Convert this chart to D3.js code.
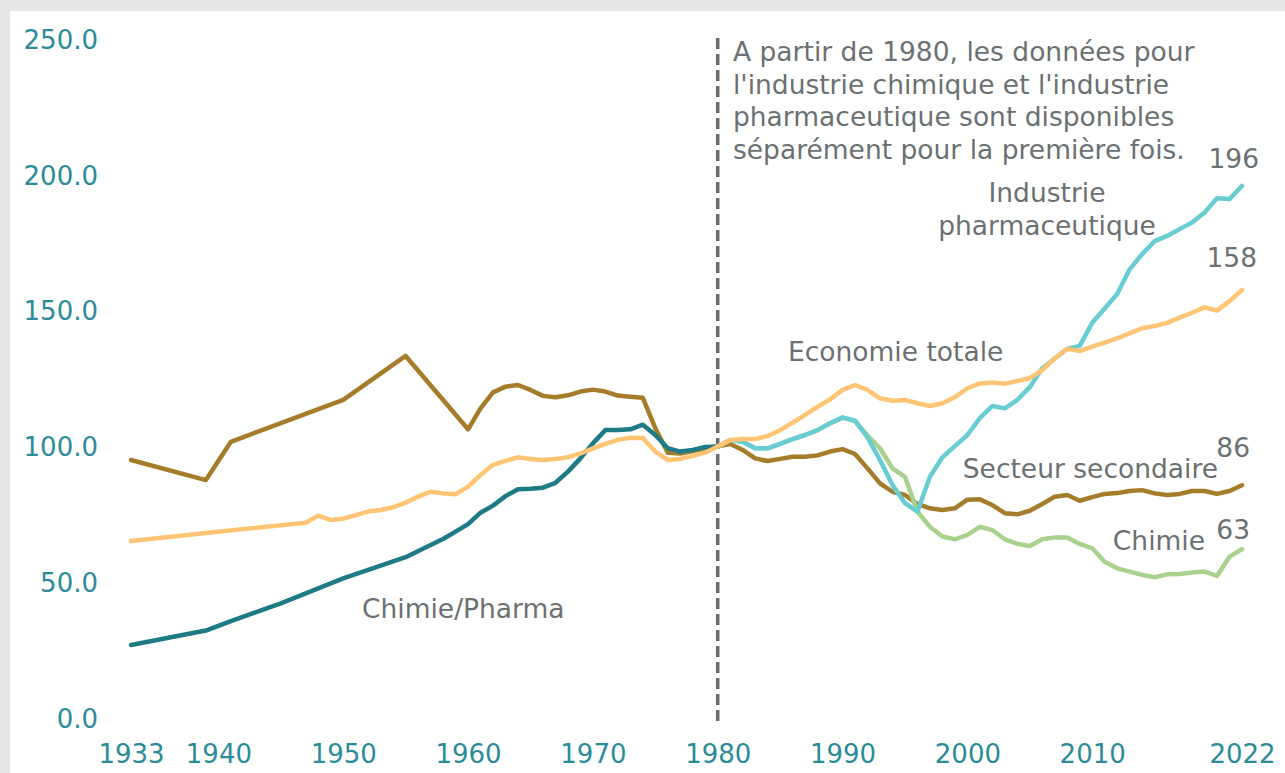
<!DOCTYPE html>
<html>
<head>
<meta charset="utf-8">
<script src="https://cdn.jsdelivr.net/npm/d3@7"></script>
<style>
  html, body { margin: 0; padding: 0; background: #e6e6e6; }
  svg { display: block; }
  text { font-family: "DejaVu Sans", Verdana, sans-serif; }
</style>
</head>
<body>
<div id="plt"></div>
<script>
// Index, 1980 = 100
const yearsChemPharma = [1933, 1939, 1941, 1945, 1948, 1950, 1955, 1957, 1958, 1959, 1960,
  1961, 1962, 1963, 1964, 1965, 1966, 1967, 1968, 1969, 1970,
  1971, 1972, 1973, 1974, 1975, 1976, 1977, 1978, 1979, 1980];
const chemPharma = [26.9, 32.2, 35.7, 42.2, 47.7, 51.4, 59.2, 63.7, 65.9, 68.6, 71.4,
  75.6, 78.2, 81.7, 84.2, 84.4, 84.8, 86.6, 90.7, 95.6, 101.1,
  106.0, 106.0, 106.3, 108.0, 104.2, 99.3, 98.1, 98.7, 99.8, 100];

const yearsSecondary = [1933, 1939, 1941, 1950, 1955, 1960,
  1961, 1962, 1963, 1964, 1965, 1966, 1967, 1968, 1969, 1970,
  1971, 1972, 1973, 1974, 1975, 1976, 1977, 1978, 1979, 1980,
  1981, 1982, 1983, 1984, 1985, 1986, 1987, 1988, 1989, 1990,
  1991, 1992, 1993, 1994, 1995, 1996, 1997, 1998, 1999, 2000,
  2001, 2002, 2003, 2004, 2005, 2006, 2007, 2008, 2009, 2010,
  2011, 2012, 2013, 2014, 2015, 2016, 2017, 2018, 2019, 2020, 2021, 2022];
const secondary = [95.0, 87.6, 101.7, 117.1, 133.3, 106.3,
  114.0, 119.9, 122.0, 122.6, 120.8, 118.6, 118.1, 118.8, 120.2, 120.9,
  120.2, 118.7, 118.3, 117.9, 106.7, 97.7, 97.4, 98.3, 99.3, 100,
  100.9, 98.7, 95.6, 94.6, 95.4, 96.2, 96.2, 96.7, 98.1, 99.0,
  97.2, 91.9, 86.4, 83.3, 82.1, 78.8, 77.2, 76.6, 77.2, 80.4,
  80.5, 78.4, 75.4, 75.0, 76.3, 78.8, 81.5, 82.1, 80.0, 81.3,
  82.5, 82.8, 83.6, 83.9, 82.7, 82.1, 82.5, 83.6, 83.6, 82.5, 83.6, 85.7];

const yearsEconomy = [1933, 1939, 1947, 1948, 1949, 1950,
  1951, 1952, 1953, 1954, 1955, 1956, 1957, 1958, 1959, 1960,
  1961, 1962, 1963, 1964, 1965, 1966, 1967, 1968, 1969, 1970,
  1971, 1972, 1973, 1974, 1975, 1976, 1977, 1978, 1979, 1980,
  1981, 1982, 1983, 1984, 1985, 1986, 1987, 1988, 1989, 1990,
  1991, 1992, 1993, 1994, 1995, 1996, 1997, 1998, 1999, 2000,
  2001, 2002, 2003, 2004, 2005, 2006, 2007, 2008, 2009, 2010,
  2011, 2012, 2013, 2014, 2015, 2016, 2017, 2018, 2019, 2020, 2021, 2022];
const economy = [65.2, 68.1, 71.9, 74.5, 72.9, 73.4,
  74.7, 76.0, 76.6, 77.6, 79.3, 81.5, 83.3, 82.7, 82.4, 85.2,
  89.5, 93.2, 94.7, 96.0, 95.4, 95.0, 95.4, 96.0, 97.4, 99.3,
  100.9, 102.4, 103.2, 103.1, 98.1, 95.0, 95.4, 96.5, 97.7, 100,
  102.4, 102.7, 102.7, 103.8, 106.0, 108.7, 111.6, 114.6, 117.3, 120.8,
  122.6, 120.8, 117.7, 116.8, 117.1, 115.9, 114.9, 115.9, 118.1, 121.4,
  123.2, 123.5, 123.1, 124.1, 125.1, 128.1, 132.4, 135.9, 135.1, 136.7,
  138.2, 139.8, 141.6, 143.5, 144.3, 145.5, 147.4, 149.2, 151.2, 150.0, 153.5, 157.6];

const years1980 = d3.range(1980, 2023);
const pharma = [100, 102.4, 101.7, 99.3, 99.3, 100.9, 102.7, 104.2, 106.0, 108.5, 110.7,
  109.5, 103.3, 95.0, 85.8, 79.1, 76.0, 88.8, 96.0, 100.1, 104.2,
  110.4, 114.9, 114.0, 117.1, 121.8, 128.8, 132.4, 135.9, 137.0, 145.5,
  150.8, 156.1, 165.2, 170.8, 175.6, 177.5, 180.0, 182.4, 186.1, 191.4, 191.1, 195.9];
const chemistry = [100, 102.4, 101.7, 99.3, 99.3, 100.9, 102.7, 104.2, 106.0, 108.5, 110.5,
  109.3, 104.0, 99.3, 91.9, 88.8, 76.0, 70.4, 66.8, 65.8, 67.4,
  70.4, 69.2, 65.8, 64.1, 63.3, 65.8, 66.5, 66.5, 64.1, 62.5,
  57.5, 55.1, 53.9, 52.7, 51.8, 52.9, 53.0, 53.6, 53.9, 52.3, 59.4, 62.2];

const yTicks = [0, 50, 100, 150, 200, 250];
const xTicks = [1933, 1940, 1950, 1960, 1970, 1980, 1990, 2000, 2010, 2022];

const W = 1285, H = 773;

const svg = d3.select("#plt")
    .append("svg")
    .attr("width", W)
    .attr("height", H);

// white card, the grey page shows on top and left
svg.append("rect")
    .attr("x", 10)
    .attr("y", 11)
    .attr("width", W - 10)
    .attr("height", H - 11)
    .attr("fill", "#fff");

const x = d3.scaleLinear().domain([1933, 2022]).range([131, 1242]);
const y = d3.scaleLinear().domain([0, 250]).range([718, 39]);

const tickColor = "#2b8b98";
const textColor = "#6b7072";
const fontSize = "26.5px";

// y axis: labels only
const yAxis = svg.append("g")
    .attr("transform", "translate(98,0)")
    .call(d3.axisLeft(y).tickValues(yTicks).tickSize(0).tickPadding(0).tickFormat(d3.format(".1f")));
yAxis.select(".domain").remove();
yAxis.selectAll("text")
    .attr("fill", tickColor)
    .attr("dy", "0.36em")
    .style("font-size", "26px")
    .style("font-family", "DejaVu Sans, Verdana, sans-serif");

// x axis: labels only
const xAxis = svg.append("g")
    .attr("transform", "translate(0,745)")
    .call(d3.axisBottom(x).tickValues(xTicks).tickSize(0).tickPadding(0).tickFormat(d3.format("d")));
xAxis.select(".domain").remove();
xAxis.selectAll("text")
    .attr("fill", tickColor)
    .style("font-size", "26px")
    .style("font-family", "DejaVu Sans, Verdana, sans-serif");

// dashed break line at 1980
svg.append("line")
    .attr("x1", x(1980)).attr("x2", x(1980))
    .attr("y1", 38).attr("y2", y(0) + 4)
    .attr("stroke", "#686c6e")
    .attr("stroke-width", 3.5)
    .attr("stroke-dasharray", "11,5");

const line = d3.line()
    .x(d => x(d[0]))
    .y(d => y(d[1]));

const series = [
  { years: yearsSecondary, values: secondary, color: "#a47c2a" },
  { years: yearsChemPharma, values: chemPharma, color: "#1e7a85" },
  { years: years1980, values: chemistry, color: "#a9d18e" },
  { years: years1980, values: pharma, color: "#68ccd3" },
  { years: yearsEconomy, values: economy, color: "#ffc575" },
];

svg.append("g")
    .selectAll("path")
    .data(series)
    .enter()
    .append("path")
    .attr("d", d => line(d.years.map((yr, i) => [yr, d.values[i]])))
    .attr("fill", "none")
    .attr("stroke", d => d.color)
    .attr("stroke-width", 4.5)
    .attr("stroke-linejoin", "round")
    .attr("stroke-linecap", "round");

// annotation
const note = ["A partir de 1980, les données pour",
  "l'industrie chimique et l'industrie",
  "pharmaceutique sont disponibles",
  "séparément pour la première fois."];
svg.append("g")
    .selectAll("text")
    .data(note)
    .enter()
    .append("text")
    .attr("x", 733)
    .attr("y", (d, i) => 61 + i * 32.5)
    .attr("fill", textColor)
    .style("font-size", fontSize)
    .text(d => d);

// series labels
const labels = [
  { t: "Chimie/Pharma", x: 362, y: 618, a: "start" },
  { t: "Economie totale", x: 788, y: 361, a: "start" },
  { t: "Industrie", x: 1047, y: 202, a: "middle" },
  { t: "pharmaceutique", x: 1047, y: 235, a: "middle" },
  { t: "Secteur secondaire", x: 1218, y: 478, a: "end" },
  { t: "Chimie", x: 1205, y: 550, a: "end" },
  { t: "196", x: 1259, y: 168, a: "end" },
  { t: "158", x: 1257, y: 267, a: "end" },
  { t: "86", x: 1250, y: 457, a: "end" },
  { t: "63", x: 1250, y: 539, a: "end" },
];
svg.append("g")
    .selectAll("text")
    .data(labels)
    .enter()
    .append("text")
    .attr("x", d => d.x)
    .attr("y", d => d.y)
    .attr("text-anchor", d => d.a)
    .attr("fill", textColor)
    .style("font-size", fontSize)
    .text(d => d.t);
</script>
</body>
</html>
